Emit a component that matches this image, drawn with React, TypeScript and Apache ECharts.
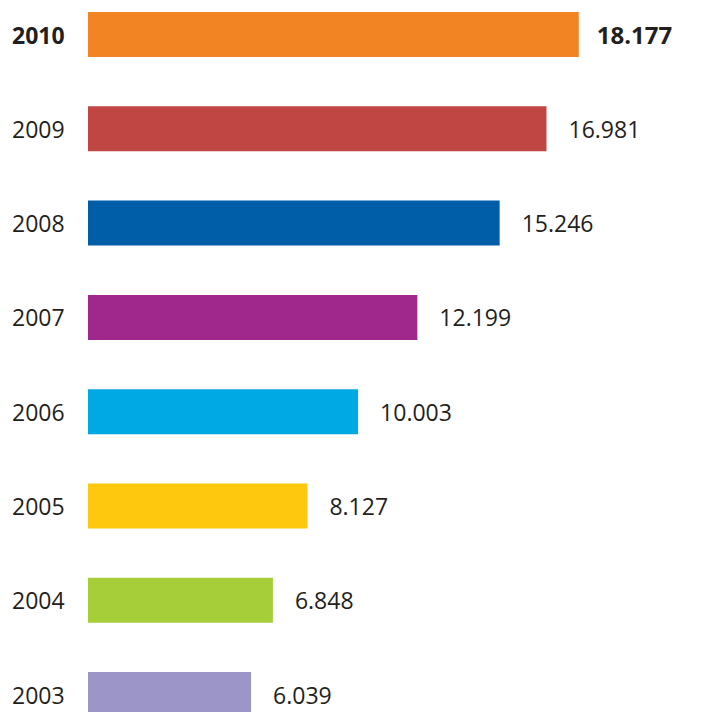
import React, { useEffect, useRef } from "react";
import * as echarts from "echarts";

const years = ["2010", "2009", "2008", "2007", "2006", "2005", "2004", "2003"];
const values = [18.177, 16.981, 15.246, 12.199, 10.003, 8.127, 6.848, 6.039];
const colors = ["#F28424", "#C04643", "#005DA8", "#A0288C", "#00A9E4", "#FEC80F", "#A6CE39", "#9C96C8"];
const highlightYear = "2010";

const FONT = "'Open Sans', 'Noto Sans', sans-serif";
const TEXT = "#231F20";

export default function App() {
  const ref = useRef<HTMLDivElement>(null);
  useEffect(() => {
    if (!ref.current) return;
    const chart = echarts.init(ref.current, null, { renderer: "svg" });
    const xMax = 22;
    const pxPerUnit = 27.0;
    const labelBox = 62;
    chart.setOption({
      animation: false,
      grid: {
        left: 88,
        top: -12.65,
        width: xMax * pxPerUnit,
        height: 754.4,
        containLabel: false,
        outerBoundsMode: "none",
      },
      xAxis: {
        type: "value",
        min: 0,
        max: xMax,
        show: false,
      },
      yAxis: {
        type: "category",
        inverse: true,
        data: years,
        axisLine: { show: false },
        axisTick: { show: false },
        splitLine: { show: false },
        axisLabel: {
          margin: 88 - 12 - labelBox,
          formatter: (v: string) => (v === highlightYear ? `{b|${v}}` : `{n|${v}}`),
          rich: {
            n: {
              width: labelBox,
              align: "left",
              fontFamily: FONT,
              fontSize: 23,
              color: TEXT,
            },
            b: {
              width: labelBox,
              align: "left",
              fontFamily: FONT,
              fontSize: 23,
              fontWeight: "bold",
              color: TEXT,
            },
          },
        },
      },
      series: [
        {
          type: "bar",
          barWidth: 45,
          data: values.map((v, i) => ({
            value: v,
            itemStyle: { color: colors[i] },
            label: years[i] === highlightYear ? { fontWeight: "bold", distance: 18, fontSize: 24 } : {},
          })),
          label: {
            show: true,
            position: "right",
            distance: 22,
            fontFamily: FONT,
            fontSize: 23,
            color: TEXT,
            formatter: (p: any) => Number(p.value).toFixed(3),
          },
        },
      ],
    });
    return () => chart.dispose();
  }, []);
  return (
    <div
      ref={ref}
      style={{ position: "fixed", left: 0, top: 0, width: 718, height: 712, background: "#fff" }}
    />
  );
}
